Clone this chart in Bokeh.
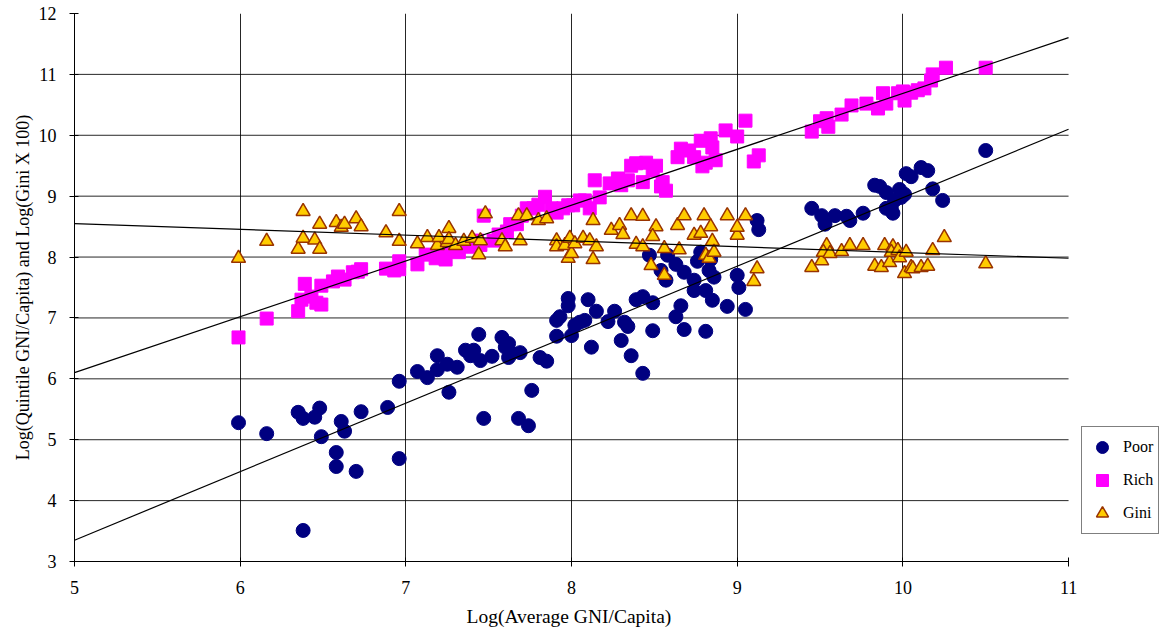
from bokeh.plotting import figure
from bokeh.models import Range1d, FixedTicker, Legend, LegendItem, Title
from bokeh.embed import file_html
from bokeh.resources import INLINE

# ---------------- data ----------------
poor_x = [5.99, 6.16, 6.35, 6.38, 6.45, 6.48, 6.49, 6.58, 6.58, 6.61, 6.63, 6.70, 6.73, 6.89, 6.96, 6.96,
          6.38, 7.07, 7.13, 7.19, 7.19, 7.25, 7.26, 7.31, 7.36, 7.39, 7.41, 7.44, 7.45, 7.47, 7.52, 7.58,
          7.60, 7.62, 7.62, 7.64, 7.69, 7.68, 7.74, 7.76, 7.81, 7.85, 7.91, 7.91, 7.93, 7.98, 7.98, 8.00,
          8.02, 8.05, 8.08, 8.10, 8.12, 8.15, 8.22, 8.26, 8.30, 8.32, 8.34, 8.36, 8.39, 8.43, 8.43, 8.47,
          8.49, 8.49, 8.54, 8.57, 8.58, 8.63, 8.63, 8.66, 8.68, 8.68, 8.74, 8.74, 8.76, 8.78, 8.81, 8.81,
          8.83, 8.84, 8.85, 8.86, 8.94, 9.00, 9.01, 9.05, 9.12, 9.13, 9.45, 9.51, 9.53, 9.59, 9.66, 9.68,
          9.76, 9.83, 9.86, 9.90, 9.90, 9.93, 9.95, 9.94, 9.98, 10.01, 9.99, 10.02, 10.05, 10.11, 10.15,
          10.18, 10.24, 10.50]
poor_y = [5.28, 5.10, 5.45, 5.35, 5.37, 5.52, 5.05, 4.79, 4.56, 5.30, 5.14, 4.48, 5.46, 5.53, 5.96, 4.69,
          3.51, 6.12, 6.02, 6.38, 6.15, 6.24, 5.78, 6.19, 6.47, 6.38, 6.47, 6.73, 6.30, 5.35, 6.37, 6.68,
          6.52, 6.58, 6.35, 6.42, 6.43, 5.35, 5.23, 5.81, 6.35, 6.29, 6.70, 6.96, 7.02, 7.20, 7.32, 6.71,
          6.88, 6.93, 6.96, 7.30, 6.52, 7.11, 6.94, 7.11, 6.63, 6.93, 6.86, 6.38, 7.30, 7.35, 6.09, 8.03,
          7.25, 6.79, 7.78, 7.62, 8.03, 7.88, 7.02, 7.20, 7.75, 6.81, 7.45, 7.62, 7.93, 8.08, 7.45, 6.78,
          7.78, 7.96, 7.29, 7.67, 7.19, 7.70, 7.50, 7.14, 8.60, 8.45, 8.80, 8.68, 8.54, 8.68, 8.67, 8.60,
          8.72, 9.18, 9.16, 9.06, 8.80, 8.81, 8.93, 8.72, 9.11, 9.03, 8.98, 9.37, 9.32, 9.47, 9.42,
          9.12, 8.93, 9.75]

rich_x = [5.99, 6.16, 6.35, 6.37, 6.39, 6.43, 6.46, 6.49, 6.49, 6.56, 6.59, 6.63, 6.68, 6.71, 6.73, 6.88,
          6.93, 6.96, 6.96, 7.07, 7.12, 7.18, 7.20, 7.24, 7.28, 7.32, 7.39, 7.43, 7.45, 7.47, 7.53, 7.56,
          7.61, 7.63, 7.67, 7.70, 7.73, 7.77, 7.80, 7.84, 7.88, 7.91, 7.95, 7.98, 8.01, 8.05, 8.08, 8.11,
          8.14, 8.17, 8.23, 8.28, 8.30, 8.34, 8.36, 8.39, 8.43, 8.45, 8.49, 8.51, 8.54, 8.55, 8.57, 8.64,
          8.66, 8.71, 8.74, 8.78, 8.79, 8.81, 8.84, 8.87, 8.85, 8.93, 9.00, 9.05, 9.10, 9.13, 9.45, 9.50,
          9.54, 9.55, 9.63, 9.69, 9.78, 9.85, 9.88, 9.90, 9.97, 10.00, 10.01, 10.05, 10.09, 10.13, 10.17,
          10.18, 10.26, 10.50]
rich_y = [6.68, 6.99, 7.11, 7.30, 7.56, 7.35, 7.25, 7.22, 7.53, 7.60, 7.68, 7.63, 7.75, 7.76, 7.80, 7.81,
          7.78, 7.80, 7.93, 7.88, 8.04, 7.98, 8.08, 7.96, 8.14, 8.08, 8.17, 8.27, 8.20, 8.68, 8.27, 8.37,
          8.42, 8.54, 8.54, 8.68, 8.80, 8.80, 8.86, 8.99, 8.80, 8.73, 8.80, 8.85, 8.85, 8.93, 8.93, 8.80,
          9.26, 8.98, 9.21, 9.29, 9.18, 9.26, 9.50, 9.54, 9.23, 9.55, 9.42, 9.50, 9.16, 9.23, 9.09, 9.64,
          9.78, 9.75, 9.64, 9.91, 9.49, 9.55, 9.95, 9.59, 9.80, 10.08, 9.98, 10.24, 9.57, 9.67, 10.06, 10.23,
          10.28, 10.14, 10.34, 10.49, 10.52, 10.44, 10.69, 10.52, 10.69, 10.72, 10.57, 10.70, 10.74, 10.77, 10.90,
          11.00, 11.11, 11.11]

gini_x = [5.99, 6.16, 6.35, 6.38, 6.38, 6.45, 6.48, 6.48, 6.58, 6.61, 6.63, 6.70, 6.73, 6.88, 6.96, 6.96,
          7.07, 7.13, 7.19, 7.20, 7.25, 7.26, 7.26, 7.30, 7.35, 7.40, 7.45, 7.48, 7.44, 7.58, 7.60, 7.69,
          7.68, 7.73, 7.80, 7.85, 7.91, 7.91, 7.96, 7.98, 7.99, 8.00, 8.02, 8.07, 8.11, 8.13, 8.13, 8.15,
          8.24, 8.29, 8.31, 8.36, 8.39, 8.43, 8.43, 8.51, 8.49, 8.48, 8.56, 8.56, 8.64, 8.68, 8.65, 8.74,
          8.78, 8.80, 8.81, 8.84, 8.85, 8.83, 8.86, 8.94, 9.00, 9.00, 9.05, 9.10, 9.12, 9.45, 9.51, 9.54,
          9.52, 9.56, 9.63, 9.68, 9.76, 9.83, 9.87, 9.89, 9.92, 9.94, 9.93, 9.97, 9.98, 10.02, 10.01,
          10.05, 10.06, 10.11, 10.15, 10.18, 10.25, 10.50]
gini_y = [7.98, 8.26, 8.13, 8.75, 8.31, 8.28, 8.13, 8.54, 8.57, 8.49, 8.54, 8.63, 8.50, 8.40, 8.75, 8.26,
          8.22, 8.32, 8.19, 8.32, 8.24, 8.47, 8.29, 8.19, 8.26, 8.31, 8.27, 8.71, 8.04, 8.27, 8.17, 8.27,
          8.68, 8.68, 8.60, 8.63, 8.27, 8.17, 8.19, 7.98, 8.31, 8.06, 8.22, 8.31, 8.27, 7.96, 8.60, 8.17,
          8.44, 8.52, 8.37, 8.68, 8.21, 8.17, 8.67, 8.50, 8.34, 7.86, 8.14, 7.70, 8.52, 8.68, 8.12, 8.36,
          8.39, 8.68, 8.03, 8.50, 8.26, 7.98, 8.08, 8.68, 8.36, 8.49, 8.68, 7.60, 7.81, 7.83, 7.94, 8.19,
          8.08, 8.06, 8.09, 8.19, 8.19, 7.85, 7.83, 8.19, 7.91, 8.17, 8.08, 8.11, 7.99, 8.08, 7.73,
          7.83, 7.81, 7.83, 7.85, 8.11, 8.32, 7.89]

# linear trend lines (slope, intercept) for Poor, Rich, Gini
trend_names = ["Poor", "Rich", "Gini"]
trend_slope = [1.125, 0.917, -0.095]
trend_intercept = [-2.275, 1.517, 9.025]

x_ticks = [5, 6, 7, 8, 9, 10, 11]
y_ticks = [3, 4, 5, 6, 7, 8, 9, 10, 11, 12]

# ---------------- figure ----------------
X0, X1 = x_ticks[0], x_ticks[-1]
Y0, Y1 = y_ticks[0], y_ticks[-1]
X_VIEW_END = 11.555   # extra room on the right of the frame to host the legend

p = figure(width=1160, height=638, output_backend="svg", toolbar_location=None,
           x_range=Range1d(X0, X_VIEW_END), y_range=Range1d(Y0, Y1),
           min_border_left=74, min_border_top=13, min_border_bottom=77, min_border_right=0)
p.outline_line_color = None
p.background_fill_color = "white"
p.border_fill_color = "white"

FONT = "Liberation Serif"
for ax in (p.xaxis[0], p.yaxis[0]):
    ax.major_label_text_font = FONT
    ax.major_label_text_font_size = "18px"
    ax.major_label_text_color = "black"
    ax.axis_label_text_font = FONT
    ax.axis_label_text_font_size = "18px"
    ax.axis_label_text_font_style = "normal"
    ax.axis_label_text_color = "black"
    ax.axis_line_color = "black"
    ax.major_tick_line_color = "black"
    ax.minor_tick_line_color = None
    ax.major_tick_in = 4
    ax.major_tick_out = 5

p.xaxis.ticker = FixedTicker(ticks=x_ticks)
p.yaxis.ticker = FixedTicker(ticks=y_ticks)
p.xaxis.bounds = (X0, X1)
p.yaxis.axis_label = "Log(Quintile GNI/Capita) and Log(Gini X 100)"
p.xaxis.major_label_standoff = 14
p.yaxis.major_label_standoff = 13
p.yaxis.axis_label_standoff = 3

# x-axis title, placed under the [X0, X1] part of the frame
xtitle = Title(text="Log(Average GNI/Capita)", align="left", offset=392,
               text_font=FONT, text_font_size="19.5px", text_font_style="normal",
               text_color="black", standoff=15)
p.add_layout(xtitle, "below")

# vertical gridlines through the library grid, horizontal ones limited to [X0, X1]
p.xgrid.ticker = FixedTicker(ticks=x_ticks[1:-1])
p.xgrid.grid_line_color = "black"
p.xgrid.grid_line_alpha = 0.85
p.ygrid.visible = False
hy = y_ticks[1:-1]
p.segment(x0=[X0] * len(hy), x1=[X1] * len(hy), y0=hy, y1=hy,
          line_color="black", line_alpha=0.85, line_width=1)

# scatter series
r_poor = p.scatter(poor_x, poor_y, marker="circle", size=14, fill_color="#000080", line_color="#000080")
r_rich = p.scatter(rich_x, rich_y, marker="square", size=13, fill_color="#FF00FF", line_color="#FF00FF")
r_gini = p.scatter(gini_x, gini_y, marker="triangle", size=14, fill_color="#FFCC00",
                   line_color="#993300", line_width=1.5)

# trend lines
for m, b in zip(trend_slope, trend_intercept):
    p.line([X0, X1], [m * X0 + b, m * X1 + b], line_color="black", line_width=1.2)

legend = Legend(items=[LegendItem(label="Poor", renderers=[r_poor]),
                       LegendItem(label="Rich", renderers=[r_rich]),
                       LegendItem(label="Gini", renderers=[r_gini])],
                location=(1007, 27))
legend.label_text_font = FONT
legend.label_text_font_size = "16px"
legend.label_text_color = "black"
legend.border_line_color = "black"
legend.border_line_width = 1
legend.background_fill_color = "white"
legend.glyph_width = 30
legend.glyph_height = 30
legend.label_height = 20
legend.spacing = 3
legend.padding = 5
legend.margin = 0
legend.label_standoff = 6
p.add_layout(legend, "center")

open("out.html", "w").write(file_html(p, INLINE))
